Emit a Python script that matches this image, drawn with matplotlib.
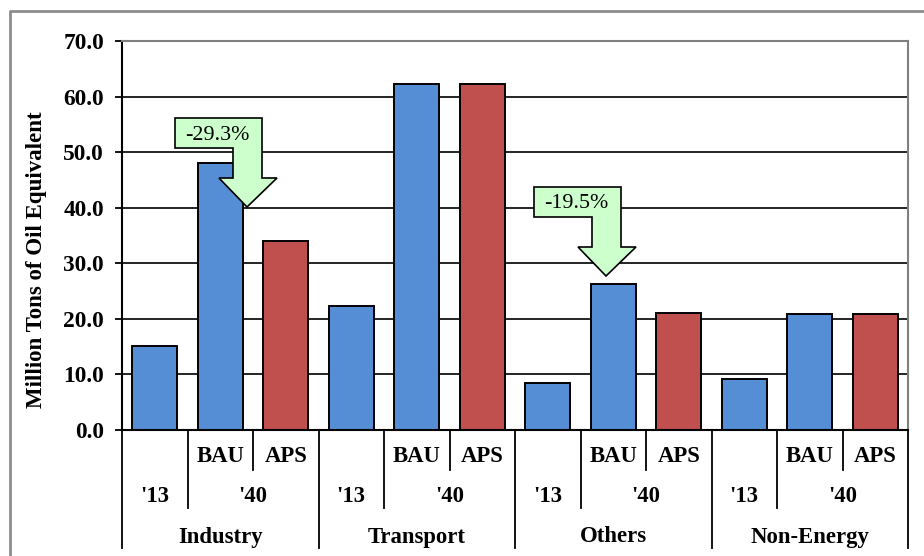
import matplotlib
matplotlib.use("Agg")
import matplotlib.pyplot as plt
from matplotlib.patches import Polygon
from matplotlib.lines import Line2D

# ---- data ----
sectors = ["Industry", "Transport", "Others", "Non-Energy"]
years = ["'13", "'40"]
scenarios = ["BAU", "APS"]
base_2013 = [15.2, 22.4, 8.5, 9.1]
bau_2040 = [48.0, 62.3, 26.2, 20.9]
aps_2040 = [34.0, 62.3, 21.0, 20.9]
yticks = [0, 10, 20, 30, 40, 50, 60, 70]
ylabel = "Million Tons of Oil Equivalent"
callouts = [("-29.3%", 0), ("-19.5%", 2)]  # (text, sector index)

BLUE = "#558ED5"
RED = "#C0504D"
GREEN = "#CCFFCC"
SERIF = ["Liberation Serif", "DejaVu Serif"]

plt.rcParams["font.family"] = SERIF

fig = plt.figure(figsize=(9.24, 5.56), dpi=100)
W, H = 924, 556
x0, x1, ytop, ybot = 122, 908, 41, 430
ax = fig.add_axes([x0 / W, 1 - ybot / H, (x1 - x0) / W, (ybot - ytop) / H])

# bar positions: three slots per sector
xs, vals, cols = [], [], []
for i in range(len(sectors)):
    for j, (v, c) in enumerate([(base_2013[i], BLUE), (bau_2040[i], BLUE), (aps_2040[i], RED)]):
        xs.append(3 * i + j)
        vals.append(v)
        cols.append(c)

ax.bar(xs, vals, width=0.68, color=cols, edgecolor="black", linewidth=1.4, zorder=3)

ax.set_xlim(-0.5, 3 * len(sectors) - 0.5)
ax.set_ylim(0, 70)
ax.set_yticks(yticks)
ax.set_yticklabels([f"{t:.1f}" for t in yticks], fontsize=16.8, fontweight="bold")
ax.tick_params(axis="y", length=5, width=1.3, pad=8, direction="out")
ax.set_xticks([])
ax.yaxis.grid(True, color="black", linewidth=1.2, zorder=0)

for s in ["left", "bottom"]:
    ax.spines[s].set_linewidth(1.5)
    ax.spines[s].set_color("black")
for s in ["top", "right"]:
    ax.spines[s].set_linewidth(1.5)
    ax.spines[s].set_color("#808080")
ax.spines["bottom"].set_zorder(4)

fig.text(37 / W, 1 - 260 / H, ylabel, rotation=90, ha="center", va="center",
         fontsize=16.5, fontweight="bold")

# ---- multi-level category axis below the plot ----
ppu = (ybot - ytop) / 70.0  # pixels per data unit


def yd(py):
    return (ybot - py) / ppu


kw = dict(color="black", linewidth=1.3, clip_on=False, zorder=5)
for i in range(len(sectors) + 1):
    xb = 3 * i - 0.5
    ax.add_line(Line2D([xb, xb], [0, yd(548)], **kw))
for i in range(len(sectors)):
    xa = 3 * i + 0.5
    xbp = 3 * i + 1.5
    ax.add_line(Line2D([xa, xa], [0, yd(508)], **kw))
    ax.add_line(Line2D([xbp, xbp], [0, yd(470)], **kw))
    tk = dict(ha="center", va="center", fontsize=16.4, fontweight="bold", clip_on=False)
    ax.text(3 * i + 1, yd(457), scenarios[0], **tk)
    ax.text(3 * i + 2, yd(457), scenarios[1], **tk)
    ax.text(3 * i, yd(497), years[0], **tk)
    ax.text(3 * i + 1.5, yd(497), years[1], **tk)
    ax.text(3 * i + 1, yd(537), sectors[i], **tk)

# ---- callout arrows (box + stem + head), offsets relative to the BAU bar ----
slot = (x1 - x0) / 12.0
shape_px = [(-45, 0), (42, 0), (42, 60), (57, 60), (27, 89), (-1, 60),
            (13, 60), (13, 30), (-45, 30)]
anchors = {0: (220, 118), 2: (579, 187)}
for text, si in callouts:
    ax_px, ay_px = anchors[si]
    pts = [((ax_px + dx - x0) / slot - 0.5, yd(ay_px + dy)) for dx, dy in shape_px]
    ax.add_patch(Polygon(pts, closed=True, facecolor=GREEN, edgecolor="black",
                         linewidth=1.2, zorder=6, clip_on=False))
    ax.text((ax_px - 3 - x0) / slot - 0.5, yd(ay_px + 17), text, ha="center",
            va="center", fontsize=15.8, zorder=7)

# ---- outer frame ----
fig.add_artist(Line2D([10 / W, 10 / W, 1.0], [0, 1 - 11 / H, 1 - 11 / H],
                      transform=fig.transFigure, color="#8c8c8c", linewidth=2))

fig.savefig("out.png", dpi=100)
